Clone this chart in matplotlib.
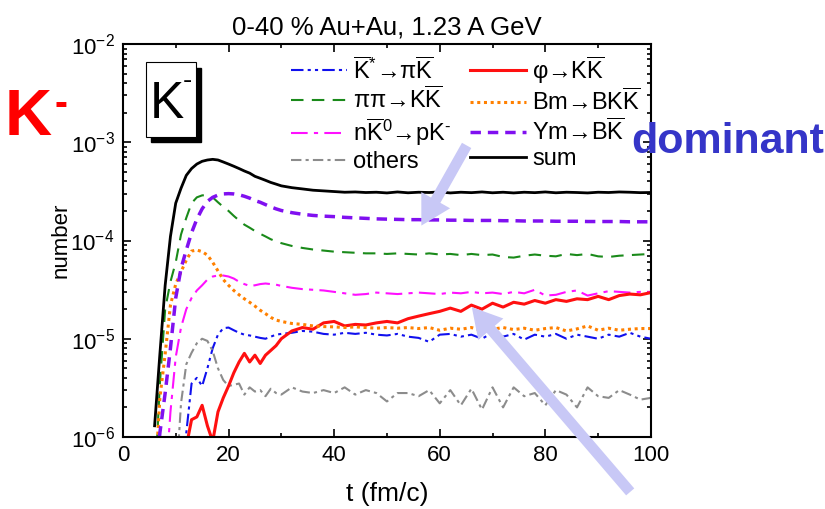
import numpy as np
import matplotlib
matplotlib.use("Agg")
import matplotlib.pyplot as plt
from matplotlib.patches import Rectangle
from matplotlib.ticker import MultipleLocator, LogLocator, NullFormatter

plt.rcParams["font.family"] = ["Liberation Sans", "DejaVu Sans"]
plt.rcParams["mathtext.fontset"] = "custom"
plt.rcParams["mathtext.rm"] = "Liberation Sans"
plt.rcParams["mathtext.it"] = "Liberation Sans"
plt.rcParams["mathtext.sf"] = "Liberation Sans"

nan = np.nan

# time grid (fm/c)
t = list(range(6, 31)) + list(range(32, 101, 2))

# K- production channels (number per event)
kstar = [nan, nan, nan, nan, nan, 3e-7, 1.1e-6, 3.5e-6, 4.0e-6, 3.3e-6,
         5e-6, 8e-6, 1.1e-5, 1.28e-5, 1.3e-5, 1.22e-5, 1.15e-5, 1.1e-5, 1.08e-5, 1.05e-5,
         1.02e-5, 1.0e-5, 1.05e-5, 1.1e-5, 1.12e-5,
         1.15e-5, 1.2e-5, 1.18e-5, 1.12e-5, 1.1e-5, 1.15e-5, 1.12e-5, 1.15e-5, 1.1e-5, 1.08e-5,
         1.12e-5, 1.05e-5, 1.02e-5, 9.3e-6, 1.1e-5, 1.12e-5, 1.05e-5, 1.1e-5, 1.0e-5, 1.15e-5,
         1.05e-5, 1.12e-5, 9.8e-6, 1.1e-5, 1.05e-5, 1.12e-5, 1.0e-5, 1.1e-5, 1.05e-5, 1.0e-5,
         1.1e-5, 1.05e-5, 1.15e-5, 1.05e-5, 1.0e-5]
phi = [nan, nan, nan, nan, nan, nan, 8e-7, 1.5e-6, 1.6e-6, 2.1e-6,
       1.3e-6, 9e-7, 1.8e-6, 2.5e-6, 3.3e-6, 4.5e-6, 5.8e-6, 7.1e-6, 5.8e-6, 6.8e-6,
       5.6e-6, 6.8e-6, 7.6e-6, 8.5e-6, 1.0e-5,
       1.2e-5, 1.3e-5, 1.25e-5, 1.45e-5, 1.5e-5, 1.35e-5, 1.4e-5, 1.38e-5, 1.45e-5, 1.5e-5,
       1.45e-5, 1.6e-5, 1.7e-5, 1.8e-5, 1.9e-5, 2.05e-5, 1.9e-5, 2.2e-5, 2.0e-5, 2.3e-5,
       2.1e-5, 2.35e-5, 2.25e-5, 2.45e-5, 2.3e-5, 2.5e-5, 2.4e-5, 2.55e-5, 2.5e-5, 2.7e-5,
       2.5e-5, 2.75e-5, 2.85e-5, 2.8e-5, 2.95e-5]
pipi = [3e-7, 3.5e-6, 2e-5, 3.8e-5, 6e-5, 1.15e-4, 1.7e-4, 2.4e-4, 2.75e-4, 2.88e-4,
        2.9e-4, 2.75e-4, 2.45e-4, 2.2e-4, 2.0e-4, 1.78e-4, 1.6e-4, 1.45e-4, 1.35e-4, 1.25e-4,
        1.17e-4, 1.1e-4, 1.03e-4, 9.8e-5, 9.4e-5,
        8.8e-5, 8.4e-5, 8.1e-5, 7.9e-5, 7.7e-5, 7.6e-5, 7.5e-5, 7.4e-5, 7.4e-5, 7.3e-5,
        7.4e-5, 7.3e-5, 7.2e-5, 7.4e-5, 7.2e-5, 7.3e-5, 7.1e-5, 7.3e-5, 7.1e-5, 7.2e-5,
        6.8e-5, 6.7e-5, 7.0e-5, 7.2e-5, 7.0e-5, 6.9e-5, 7.3e-5, 7.1e-5, 7.3e-5, 6.9e-5,
        6.8e-5, 7.0e-5, 7.1e-5, 7.2e-5, 7.3e-5]
bm = [3e-7, 2.5e-6, 7e-6, 2.2e-5, 3.6e-5, 4.8e-5, 6.3e-5, 7.8e-5, 8.0e-5, 7.7e-5,
      7.1e-5, 6.0e-5, 4.9e-5, 4.0e-5, 3.5e-5, 3.1e-5, 2.8e-5, 2.55e-5, 2.35e-5, 2.15e-5,
      1.95e-5, 1.8e-5, 1.65e-5, 1.55e-5, 1.5e-5,
      1.43e-5, 1.4e-5, 1.35e-5, 1.33e-5, 1.32e-5, 1.3e-5, 1.32e-5, 1.3e-5, 1.28e-5, 1.3e-5,
      1.28e-5, 1.3e-5, 1.27e-5, 1.3e-5, 1.22e-5, 1.28e-5, 1.25e-5, 1.3e-5, 1.22e-5, 1.25e-5,
      1.3e-5, 1.24e-5, 1.28e-5, 1.22e-5, 1.27e-5, 1.3e-5, 1.2e-5, 1.26e-5, 1.35e-5, 1.22e-5,
      1.28e-5, 1.22e-5, 1.25e-5, 1.27e-5, 1.27e-5]
nk0 = [nan, nan, 3e-7, 1.8e-6, 6.5e-6, 1.3e-5, 2.0e-5, 2.6e-5, 3.1e-5, 3.5e-5,
       4.0e-5, 4.3e-5, 4.4e-5, 4.4e-5, 4.3e-5, 4.1e-5, 3.8e-5, 3.6e-5, 3.45e-5, 3.5e-5,
       3.6e-5, 3.65e-5, 3.6e-5, 3.55e-5, 3.45e-5,
       3.3e-5, 3.2e-5, 3.15e-5, 3.1e-5, 3.0e-5, 2.9e-5, 2.8e-5, 2.85e-5, 2.95e-5, 2.9e-5,
       2.85e-5, 2.9e-5, 2.95e-5, 2.9e-5, 2.85e-5, 2.95e-5, 2.9e-5, 3.0e-5, 2.9e-5, 2.95e-5,
       2.85e-5, 3.0e-5, 2.9e-5, 3.15e-5, 2.75e-5, 2.8e-5, 3.0e-5, 3.1e-5, 2.75e-5, 2.9e-5,
       3.05e-5, 3.0e-5, 2.95e-5, 3.0e-5, 3.0e-5]
ym = [3e-7, 1.1e-6, 2.8e-6, 8e-6, 2.6e-5, 5.2e-5, 8e-5, 1.2e-4, 1.65e-4, 2.1e-4,
      2.5e-4, 2.75e-4, 2.9e-4, 2.98e-4, 3.0e-4, 2.98e-4, 2.92e-4, 2.82e-4, 2.7e-4, 2.55e-4,
      2.45e-4, 2.32e-4, 2.2e-4, 2.1e-4, 2.02e-4,
      1.92e-4, 1.85e-4, 1.8e-4, 1.77e-4, 1.75e-4, 1.72e-4, 1.7e-4, 1.68e-4, 1.66e-4, 1.65e-4,
      1.64e-4, 1.63e-4, 1.63e-4, 1.62e-4, 1.62e-4, 1.61e-4, 1.61e-4, 1.6e-4, 1.6e-4, 1.6e-4,
      1.59e-4, 1.59e-4, 1.58e-4, 1.58e-4, 1.58e-4, 1.57e-4, 1.57e-4, 1.57e-4, 1.56e-4, 1.56e-4,
      1.56e-4, 1.56e-4, 1.55e-4, 1.55e-4, 1.55e-4]
others = [nan, nan, nan, nan, 3e-7, 2.2e-6, 5.5e-6, 7.2e-6, 9e-6, 1.0e-5,
          9.5e-6, 7.5e-6, 5e-6, 3.8e-6, 3.3e-6, 3.4e-6, 3.5e-6, 2.7e-6, 3.2e-6, 2.9e-6,
          3.0e-6, 2.6e-6, 3.1e-6, 2.8e-6, 2.7e-6,
          3.2e-6, 2.9e-6, 2.8e-6, 3.0e-6, 2.8e-6, 3.2e-6, 2.7e-6, 3.0e-6, 2.8e-6, 2.3e-6,
          2.8e-6, 2.8e-6, 2.6e-6, 3.0e-6, 2.2e-6, 3.0e-6, 2.1e-6, 3.1e-6, 1.9e-6, 3.2e-6,
          2.0e-6, 3.2e-6, 2.6e-6, 2.8e-6, 2.1e-6, 3.0e-6, 2.7e-6, 2.0e-6, 3.2e-6, 2.6e-6,
          2.5e-6, 3.0e-6, 2.7e-6, 2.4e-6, 2.5e-6]
total = [1.3e-6, 7e-6, 3.5e-5, 1.1e-4, 2.4e-4, 3.4e-4, 4.6e-4, 5.4e-4, 6.0e-4, 6.4e-4,
         6.6e-4, 6.7e-4, 6.6e-4, 6.3e-4, 6.0e-4, 5.7e-4, 5.4e-4, 5.1e-4, 4.85e-4, 4.5e-4,
         4.3e-4, 4.1e-4, 3.9e-4, 3.75e-4, 3.6e-4,
         3.45e-4, 3.35e-4, 3.25e-4, 3.2e-4, 3.15e-4, 3.1e-4, 3.12e-4, 3.08e-4, 3.1e-4, 3.05e-4,
         3.12e-4, 3.06e-4, 3.1e-4, 3.08e-4, 3.12e-4, 3.05e-4, 3.1e-4, 3.07e-4, 3.12e-4, 3.06e-4,
         3.1e-4, 3.05e-4, 3.1e-4, 3.07e-4, 3.12e-4, 3.06e-4, 3.1e-4, 3.08e-4, 3.05e-4, 3.1e-4,
         3.08e-4, 3.12e-4, 3.1e-4, 3.07e-4, 3.08e-4]

KB = r"$\overline{\mathrm{K}}$"
labels = [r"$\overline{\mathrm{K}}^{*}$" + "→π" + KB,
          "ππ→K" + KB,
          "n" + r"$\overline{\mathrm{K}}^{0}$" + "→pK" + r"$^{\text{-}}$",
          "others",
          "φ→K" + KB,
          "Bm→BK" + KB,
          "Ym→B" + KB,
          "sum"]

fig = plt.figure(figsize=(8.25, 5.09), dpi=100)
ax = fig.add_axes([0.149, 0.1415, 0.64, 0.772])

h1, = ax.plot(t, kstar, color="#1010ee", lw=1.5, ls=(0, (6, 2, 1.5, 2, 1.5, 2)))
h2, = ax.plot(t, pipi, color="#1a8a1a", lw=1.5, ls=(0, (6, 4)))
h3, = ax.plot(t, nk0, color="#ff10ff", lw=1.5, ls=(0, (8, 3, 2, 3)))
h4, = ax.plot(t, others, color="#8c8c8c", lw=1.5, ls=(0, (5, 2, 1.5, 2)))
h5, = ax.plot(t, phi, color="#ff1010", lw=2.2, ls="-")
h6, = ax.plot(t, bm, color="#ff8000", lw=2.2, ls=(0, (1, 1.2)))
h7, = ax.plot(t, ym, color="#8010f0", lw=2.5, ls=(0, (3, 2)))
h8, = ax.plot(t, total, color="black", lw=2.0, ls="-")

ax.set_yscale("log")
ax.set_xlim(0, 100)
ax.set_ylim(1e-6, 1e-2)
ax.xaxis.set_major_locator(MultipleLocator(20))
ax.xaxis.set_minor_locator(MultipleLocator(10))
ax.yaxis.set_major_locator(LogLocator(base=10, numticks=10))
ax.yaxis.set_minor_locator(LogLocator(base=10, subs=np.arange(2, 10), numticks=10))
ax.yaxis.set_minor_formatter(NullFormatter())
ax.tick_params(which="both", direction="in", top=True, right=True, labelsize=16, width=1.2)
ax.tick_params(which="major", length=6, pad=6)
ax.tick_params(which="minor", length=3)
for s in ax.spines.values():
    s.set_linewidth(1.5)

ax.set_xlabel("t (fm/c)", fontsize=19, labelpad=11)
ax.set_ylabel("number", fontsize=16, labelpad=-1)
ax.set_title("0-40 % Au+Au, 1.23 A GeV", fontsize=18.5, pad=7)

ax.legend([h1, h2, h3, h4, h5, h6, h7, h8], labels, ncol=2, frameon=False,
          loc="upper left", bbox_to_anchor=(0.318, 0.975), fontsize=17,
          borderaxespad=0, borderpad=0,
          handlelength=2.4, handletextpad=0.25, columnspacing=0.75, labelspacing=0.12)

# K- box with shadow
ax.add_patch(Rectangle((0.053, 0.75), 0.095, 0.19, transform=ax.transAxes,
                       facecolor="black", edgecolor="black", zorder=5))
ax.add_patch(Rectangle((0.043, 0.763), 0.095, 0.19, transform=ax.transAxes,
                       facecolor="white", edgecolor="black", lw=0.8, zorder=6))
ax.text(0.083, 0.845, "K", transform=ax.transAxes, fontsize=37,
        ha="center", va="center", zorder=7)
ax.text(0.122, 0.905, "-", transform=ax.transAxes, fontsize=20,
        ha="center", va="center", zorder=7)

# slide annotations
fig.text(0.006, 0.735, "K", fontsize=47, fontweight="bold", color="red")
fig.text(0.066, 0.775, "-", fontsize=28, fontweight="bold", color="red")
fig.text(0.765, 0.70, "dominant", fontsize=31, fontweight="bold", color="#3535c8")

arrow = dict(arrowstyle="simple,head_width=1.7,head_length=1.5,tail_width=0.55",
             mutation_scale=14, color="#c8c8f6", lw=0)
ax.annotate("", xy=(420, 509 - 228), xytext=(468, 509 - 143), xycoords="figure pixels",
            textcoords="figure pixels", arrowprops=arrow, zorder=10, annotation_clip=False)
ax.annotate("", xy=(470, 509 - 305), xytext=(632, 509 - 494), xycoords="figure pixels",
            textcoords="figure pixels", arrowprops=arrow, zorder=10, annotation_clip=False)

fig.savefig("out.png", dpi=100)
